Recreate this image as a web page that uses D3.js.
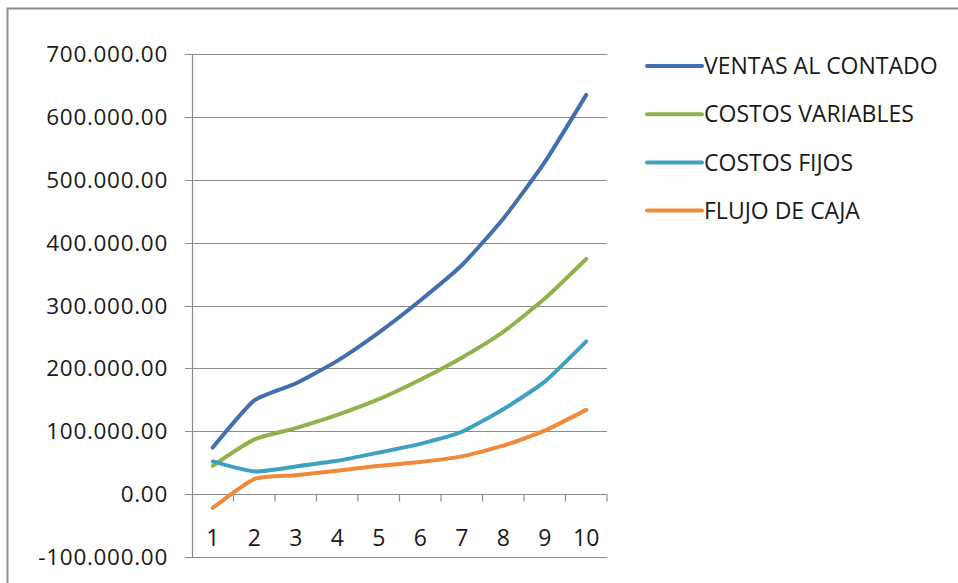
<!DOCTYPE html>
<html>
<head>
<meta charset="utf-8">
<script src="https://cdn.jsdelivr.net/npm/d3@7"></script>
<style>
  html, body { margin: 0; padding: 0; background: #fff; }
  svg { display: block; }
  text { font-family: "Open Sans", "Lato", sans-serif; fill: #1a1a1a; }
</style>
</head>
<body>
<svg id="chart" width="958" height="583"></svg>
<script>
// Periods on the x axis
const periods = [1, 2, 3, 4, 5, 6, 7, 8, 9, 10];

// Series values per period
const ventasAlContado  = [74000, 149000, 176000, 212000, 257000, 308000, 364000, 438000, 528000, 635000];
const costosVariables  = [45000, 87000, 105000, 126000, 151000, 182000, 217000, 258000, 311000, 374000];
const costosFijos      = [52000, 36000, 44000, 53000, 66000, 80000, 99000, 135000, 179000, 243000];
const flujoDeCaja      = [-22000, 24000, 30000, 37000, 45000, 51000, 60000, 77000, 101000, 134000];

const seriesNames = ["VENTAS AL CONTADO", "COSTOS VARIABLES", "COSTOS FIJOS", "FLUJO DE CAJA"];
const seriesValues = [ventasAlContado, costosVariables, costosFijos, flujoDeCaja];
const seriesColors = ["#4270AE", "#8FB24C", "#3EA1C2", "#EF8A3A"];

// Y axis ticks
const yTicks = [-100000, 0, 100000, 200000, 300000, 400000, 500000, 600000, 700000];

const svg = d3.select("#chart");

// Outer chart frame
svg.append("rect")
  .attr("x", 7.5).attr("y", 8.5)
  .attr("width", 1000).attr("height", 1000)
  .attr("fill", "none")
  .attr("stroke", "#8a8a8a")
  .attr("stroke-width", 2);

const plot = { left: 192, right: 607, top: 54, bottom: 557 };

const x = d3.scaleBand()
  .domain(periods)
  .range([plot.left, plot.right])
  .paddingInner(0).paddingOuter(0);

const y = d3.scaleLinear()
  .domain([-100000, 700000])
  .range([plot.bottom, plot.top]);

// Number format with dots as separators: 700.000.00
const fmt = v => {
  const s = d3.format(",.2f")(v);
  return s.replace(/,/g, ".").replace("−", "-");
};

// Horizontal gridlines
svg.append("g")
  .selectAll("line")
  .data(yTicks)
  .join("line")
  .attr("x1", plot.left - 7)
  .attr("x2", plot.right)
  .attr("y1", d => Math.round(y(d)) + 0.5)
  .attr("y2", d => Math.round(y(d)) + 0.5)
  .attr("stroke", "#8c8c8c")
  .attr("stroke-width", 1.2);

// Y axis line
svg.append("line")
  .attr("x1", plot.left + 0.5).attr("x2", plot.left + 0.5)
  .attr("y1", plot.top).attr("y2", plot.bottom)
  .attr("stroke", "#8c8c8c").attr("stroke-width", 1.2);

// Y axis labels
svg.append("g")
  .selectAll("text")
  .data(yTicks)
  .join("text")
  .attr("x", 168)
  .attr("y", d => y(d))
  .attr("dy", "0.36em")
  .attr("text-anchor", "end")
  .attr("font-size", 22.5)
  .attr("letter-spacing", 0.7)
  .text(d => fmt(d));

// X axis (at zero) with tick marks at category boundaries
const y0 = Math.round(y(0)) + 0.5;
const boundaries = periods.map(p => x(p) + x.bandwidth());
svg.append("g")
  .selectAll("line")
  .data(boundaries)
  .join("line")
  .attr("x1", d => d).attr("x2", d => d)
  .attr("y1", y0).attr("y2", y0 + 7)
  .attr("stroke", "#8c8c8c").attr("stroke-width", 1.2);

// X axis labels
svg.append("g")
  .selectAll("text")
  .data(periods)
  .join("text")
  .attr("x", d => x(d) + x.bandwidth() / 2)
  .attr("y", 546)
  .attr("text-anchor", "middle")
  .attr("font-size", 23)
  .text(d => d);

// Series lines
const line = d3.line()
  .x((d, i) => x(periods[i]) + x.bandwidth() / 2)
  .y(d => y(d))
  .curve(d3.curveCardinal.tension(0.45));

svg.append("g")
  .selectAll("path")
  .data(seriesValues)
  .join("path")
  .attr("d", d => line(d))
  .attr("fill", "none")
  .attr("stroke", (d, i) => seriesColors[i])
  .attr("stroke-width", 4)
  .attr("stroke-linecap", "round")
  .attr("stroke-linejoin", "round");

// Legend
const legend = svg.append("g")
  .selectAll("g")
  .data(seriesNames)
  .join("g")
  .attr("transform", (d, i) => `translate(0, ${66 + i * 48.2})`);

legend.append("line")
  .attr("x1", 647).attr("x2", 702)
  .attr("y1", 0).attr("y2", 0)
  .attr("stroke", (d, i) => seriesColors[i])
  .attr("stroke-width", 4)
  .attr("stroke-linecap", "round");

legend.append("text")
  .attr("x", 704)
  .attr("y", 0)
  .attr("dy", "0.36em")
  .attr("font-size", 23)
  .text(d => d);
</script>
</body>
</html>
